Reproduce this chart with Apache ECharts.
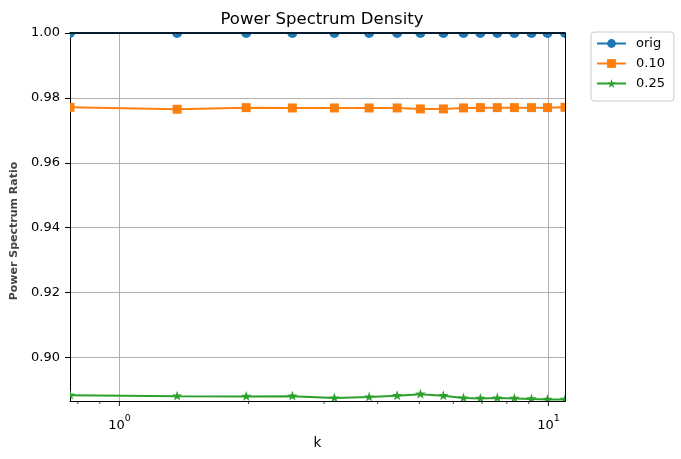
<!DOCTYPE html>
<html>
<head>
<meta charset="utf-8">
<script src="https://cdn.jsdelivr.net/npm/echarts@6/dist/echarts.min.js"></script>
<style>
  html, body { margin: 0; padding: 0; background: #fff; }
  #main { width: 681px; height: 459px; }
</style>
</head>
<body>
<div id="main"></div>
<script>
// k values (log x axis) and ratios per series
var kValues = [0.767, 1.363, 1.975, 2.53, 3.17, 3.82, 4.44, 5.03, 5.69, 6.34, 6.94, 7.60, 8.33, 9.13, 9.95, 10.93];
var origVals = [1, 1, 1, 1, 1, 1, 1, 1, 1, 1, 1, 1, 1, 1, 1, 1];
var r010Vals = [0.9771, 0.9765, 0.9770, 0.9769, 0.9769, 0.9769, 0.9769, 0.9766, 0.9766, 0.9769, 0.9770, 0.9770, 0.9770, 0.9770, 0.9770, 0.9771];
var r025Vals = [0.8884, 0.8881, 0.8880, 0.8881, 0.8875, 0.8878, 0.8882, 0.8887, 0.8882, 0.8875, 0.8874, 0.8875, 0.8874, 0.8872, 0.8871, 0.8871];
var seriesNames = ['orig', '0.10', '0.25'];
var yTicks = [0.90, 0.92, 0.94, 0.96, 0.98, 1.00];
var xMajorTicks = [1, 10];
var xMinorTicks = [0.8, 0.9, 2, 3, 4, 5, 6, 7, 8, 9];
var yMin = 0.8866, yMax = 1.0;

var colors = ['#1f77b4', '#ff7f0e', '#2ca02c'];
var font = 'DejaVu Sans';
var starPath = 'path://M0,-100 L22.45,-30.9 L95.1,-30.9 L36.3,11.8 L58.8,80.9 L0,38.2 L-58.8,80.9 L-36.3,11.8 L-95.1,-30.9 L-22.45,-30.9 Z';
var starPts = [[0,-1],[0.2245,-0.309],[0.951,-0.309],[0.363,0.118],[0.588,0.809],[0,0.382],[-0.588,0.809],[-0.363,0.118],[-0.951,-0.309],[-0.2245,-0.309]];

function pairs(ys) {
    return kValues.map(function (k, i) { return [k, ys[i]]; });
}

function markerSeries(name, ys, color, shape) {
    return {
        name: name,
        type: 'custom',
        clip: true,
        z: 4,
        data: pairs(ys),
        renderItem: function (params, api) {
            var p = api.coord([api.value(0), api.value(1)]);
            if (shape === 'circle') {
                return { type: 'circle', shape: { cx: p[0], cy: p[1], r: 5 }, style: { fill: color } };
            }
            if (shape === 'rect') {
                return { type: 'rect', shape: { x: p[0] - 4.5, y: p[1] - 4.5, width: 9, height: 9 }, style: { fill: color } };
            }
            var pts = starPts.map(function (s) { return [p[0] + s[0] * 5.5, p[1] + s[1] * 5.5]; });
            return { type: 'polygon', shape: { points: pts }, style: { fill: color } };
        }
    };
}

function lineSeries(name, ys, color, symbol) {
    return {
        name: name,
        type: 'line',
        data: pairs(ys),
        symbol: symbol,
        showSymbol: false,
        clip: true,
        z: 3,
        lineStyle: { color: color, width: 2 },
        itemStyle: { color: color }
    };
}

// x ticks placed through the x scale, hanging below the axis line
function tickSeries(vals, len, width) {
    return {
        type: 'scatter',
        silent: true,
        clip: false,
        z: 10,
        symbol: 'rect',
        symbolSize: [width, len],
        symbolOffset: [0, len / 2],
        itemStyle: { color: '#000' },
        data: vals.map(function (v) { return [v, yMin]; })
    };
}

var myChart = echarts.init(document.getElementById('main'));
var option = {
    animation: false,
    backgroundColor: '#fff',
    title: {
        text: 'Power Spectrum Density',
        left: 317,
        textAlign: 'center',
        top: 6,
        textStyle: { fontFamily: font, fontSize: 16.5, fontWeight: 'normal', color: '#000' }
    },
    legend: {
        data: seriesNames,
        orient: 'vertical',
        left: 591,
        top: 32,
        padding: [5, 9, 11, 5],
        itemGap: 7,
        itemWidth: 29,
        itemHeight: 11,
        borderColor: '#cccccc',
        borderWidth: 1,
        borderRadius: 3,
        textStyle: { fontFamily: font, fontSize: 13, color: '#000', padding: [0, 0, 0, 5] }
    },
    grid: { left: 70, top: 33, width: 495, height: 368 },
    xAxis: [{
        type: 'log',
        logBase: 10,
        min: kValues[0],
        max: kValues[kValues.length - 1],
        name: 'k',
        nameLocation: 'middle',
        nameGap: 34,
        nameTextStyle: { fontFamily: font, fontSize: 13.5, color: '#000' },
        axisLine: { lineStyle: { color: '#000', width: 1 } },
        axisTick: { show: false },
        axisLabel: {
            fontFamily: font, fontSize: 13, color: '#000', margin: 13,
            showMinLabel: false, showMaxLabel: false,
            formatter: function (v) {
                if (Math.abs(v - 1) < 1e-6) return '{a|10}{b|0}';
                if (Math.abs(v - 10) < 1e-6) return '{a|10}{b|1}';
                return '';
            },
            rich: {
                a: { fontFamily: font, fontSize: 13, color: '#000', lineHeight: 18, verticalAlign: 'bottom' },
                b: { fontFamily: font, fontSize: 9.5, color: '#000', lineHeight: 18, verticalAlign: 'top' }
            }
        },
        splitLine: { show: true, lineStyle: { color: '#b0b0b0', width: 1 } },
        z: 1
    }, {
        type: 'value',
        position: 'top',
        min: 0, max: 1,
        axisLine: { lineStyle: { color: '#000', width: 1.5 } },
        axisTick: { show: false },
        axisLabel: { show: false },
        splitLine: { show: false },
        z: 5
    }],
    yAxis: [{
        type: 'value',
        min: yMin,
        max: yMax,
        name: 'Power Spectrum Ratio',
        nameLocation: 'middle',
        nameGap: 50,
        nameTextStyle: { fontFamily: font, fontSize: 11, fontWeight: 'bold', color: '#444', padding: [0, 28, 0, 0] },
        axisLine: { show: true, lineStyle: { color: '#000', width: 1 } },
        axisTick: { show: true, length: 5, customValues: yTicks, lineStyle: { color: '#000' } },
        axisLabel: {
            fontFamily: font, fontSize: 13, color: '#000', margin: 10,
            customValues: yTicks,
            formatter: function (v) { return v.toFixed(2); }
        },
        splitLine: { show: true, lineStyle: { color: '#b0b0b0', width: 1 } },
        z: 2
    }, {
        type: 'value',
        position: 'right',
        min: 0, max: 1,
        axisLine: { show: true, lineStyle: { color: '#000', width: 1 } },
        axisTick: { show: false },
        axisLabel: { show: false },
        splitLine: { show: false },
        z: 5
    }],
    series: [
        lineSeries(seriesNames[0], origVals, colors[0], 'circle'),
        lineSeries(seriesNames[1], r010Vals, colors[1], 'rect'),
        lineSeries(seriesNames[2], r025Vals, colors[2], starPath),
        markerSeries(seriesNames[0], origVals, colors[0], 'circle'),
        markerSeries(seriesNames[1], r010Vals, colors[1], 'rect'),
        markerSeries(seriesNames[2], r025Vals, colors[2], 'star'),
        tickSeries(xMajorTicks, 5, 1.1),
        tickSeries(xMinorTicks, 3, 0.9)
    ]
};
if (option && typeof option === "object") {
    myChart.setOption(option, true);
}
</script>
</body>
</html>
